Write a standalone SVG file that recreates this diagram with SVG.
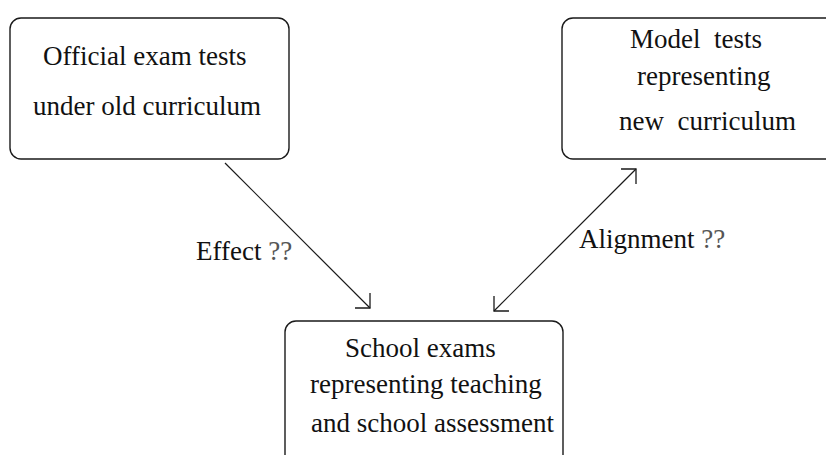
<svg xmlns="http://www.w3.org/2000/svg" width="826" height="455" viewBox="0 0 826 455">
  <defs>
    <marker id="open" markerUnits="userSpaceOnUse" viewBox="-12 -12 14 24" refX="0" refY="0" markerWidth="14" markerHeight="24" orient="auto-start-reverse" overflow="visible">
      <path d="M-10.6,-10.6 L0,0 L-10.6,10.6" fill="none" stroke="#1a1a1a" stroke-width="1.3"/>
    </marker>
    <style>
      .box { fill: #ffffff; stroke: #1a1a1a; stroke-width: 1.4; }
      .t { font-family: "Liberation Serif", "Times New Roman", serif; font-size: 27px; fill: #111; }
      .conn { stroke: #1a1a1a; stroke-width: 1.2; fill: none; }
      .q { fill: #555; }
    </style>
  </defs>
  <rect width="826" height="455" fill="#ffffff"/>
  <g id="node-official">
    <rect class="box" x="10" y="18" width="279" height="141" rx="11"/>
    <text class="t" x="43" y="65">Official exam tests</text>
    <text class="t" x="33" y="115">under old curriculum</text>
  </g>
  <g id="node-model">
    <rect class="box" x="562" y="18" width="290" height="141" rx="11"/>
    <text class="t" x="630" y="48" xml:space="preserve">Model  tests</text>
    <text class="t" x="637" y="85">representing</text>
    <text class="t" x="619" y="130" xml:space="preserve">new  curriculum</text>
  </g>
  <g id="node-school">
    <rect class="box" x="285" y="321" width="278" height="160" rx="11"/>
    <text class="t" x="345" y="357">School exams</text>
    <text class="t" x="310" y="393">representing teaching</text>
    <text class="t" x="311" y="432">and school assessment</text>
  </g>
  <g id="connectors">
    <line class="conn" x1="225" y1="163" x2="370" y2="308" marker-end="url(#open)"/>
    <line class="conn" x1="636" y1="169" x2="494" y2="311" marker-start="url(#open)" marker-end="url(#open)"/>
    <text class="t" x="196" y="260">Effect <tspan class="q">??</tspan></text>
    <text class="t" x="579" y="248">Alignment <tspan class="q">??</tspan></text>
  </g>
</svg>
